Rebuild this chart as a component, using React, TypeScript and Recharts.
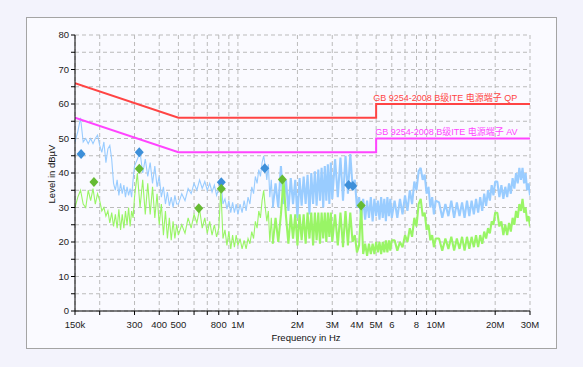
import { ComposedChart, Line, XAxis, YAxis, CartesianGrid, ReferenceDot } from 'recharts';

const FONT = "'Liberation Sans', 'Noto Sans CJK SC', sans-serif";

// frequency grid in MHz, split in pieces so the value rows stay readable
const freqA = [0.15, 0.155, 0.16, 0.165, 0.17, 0.175, 0.18, 0.185, 0.19, 0.195, 0.2, 0.205, 0.21, 0.215, 0.22, 0.225, 0.23, 0.235, 0.24, 0.245, 0.25, 0.255, 0.26, 0.265, 0.27, 0.275, 0.28, 0.285, 0.29, 0.295, 0.3];
const peakA = [49, 52, 56, 49, 50, 48.5, 50, 48.5, 50, 51, 48, 46, 49, 43, 47, 48, 44, 37, 35, 38, 33.5, 37, 34, 36.5, 33, 36, 33.5, 35.5, 33, 38, 42];
const avgA = [30, 33, 35, 31, 30, 35, 32, 35.5, 31, 34, 32, 29, 30, 27.5, 29, 25.5, 28.5, 24.5, 28, 24, 29.5, 23.5, 28, 24, 29, 25, 30, 24.5, 29, 27, 33];

const freqB = [0.31, 0.32, 0.33, 0.34, 0.35, 0.36, 0.37, 0.38, 0.39, 0.4, 0.41, 0.42, 0.43, 0.44, 0.45, 0.46, 0.47, 0.48, 0.49];
const peakB = [44, 46, 40, 44, 39, 43, 37, 42, 36, 39, 33, 36, 31, 34.5, 30.5, 33, 30, 33.5, 31];
const avgB = [40, 30, 38, 28, 37, 28, 36, 27, 34, 25, 31, 22, 29, 21, 27, 20.5, 26, 21, 25];

const freqC = [0.5, 0.52, 0.54, 0.56, 0.58, 0.6, 0.62, 0.64, 0.66, 0.68, 0.7, 0.72, 0.74, 0.76, 0.78, 0.8, 0.82, 0.84, 0.86, 0.88, 0.9, 0.92, 0.94, 0.96, 0.98, 1];
const peakC = [31, 34, 32, 35.5, 34, 37, 35, 38, 35.5, 37.5, 35, 37, 34.5, 36.5, 33.5, 35.5, 38, 31, 32.5, 29.5, 32, 28.5, 31.5, 28.5, 31, 28];
const avgC = [22, 25, 22.5, 27, 24, 28, 25.5, 29.5, 24, 27, 22.5, 26, 22, 25, 21.5, 24, 35.5, 21, 23.5, 19, 23, 18, 22, 18.5, 22, 19];

const freqD = [1.025, 1.05, 1.075, 1.1, 1.125, 1.15, 1.175, 1.2, 1.225, 1.25, 1.275, 1.3, 1.325, 1.35, 1.375, 1.4, 1.425, 1.45, 1.475, 1.5];
const peakD = [31, 28.5, 32, 29, 33, 31, 36, 34, 39, 37, 41, 39, 43, 45, 42, 38, 42.5, 33, 38, 30];
const avgD = [21, 18, 20.5, 18, 21, 19.5, 23, 21, 26, 24, 29, 27, 32, 35, 30, 26, 29, 20, 27, 19.5];

const freqE = [1.55, 1.6, 1.65, 1.7, 1.75, 1.8, 1.85, 1.9, 1.95, 2, 2.05, 2.1, 2.15, 2.2, 2.25, 2.3, 2.35, 2.4, 2.45, 2.5, 2.55, 2.6, 2.65, 2.7, 2.75, 2.8, 2.85, 2.9, 2.95, 3];
const peakE = [37, 30, 42, 31, 38, 29, 38.5, 31, 38, 27, 38.5, 30.5, 39, 31, 39.5, 28, 40, 31, 40.5, 30.5, 41, 32, 41.5, 30, 42, 32, 42.5, 31, 43, 32.5];
const avgE = [27, 20, 28, 38, 27.5, 19.5, 28, 21, 28, 19, 28, 20.5, 28, 19.5, 28.5, 21, 28.5, 19, 28.5, 20.5, 28.5, 19.5, 28.5, 21, 28.5, 20, 28.5, 21.5, 28.5, 20];

const freqF = [3.1, 3.2, 3.3, 3.4, 3.5, 3.6, 3.7, 3.8, 3.9, 4, 4.1, 4.2, 4.3, 4.4, 4.5, 4.6, 4.7, 4.8, 4.9, 5, 5.1, 5.2, 5.3, 5.4, 5.5, 5.6, 5.7, 5.8, 5.9, 6];
const peakF = [44, 33, 44.5, 32, 45, 34, 45.5, 36, 38, 30, 33, 27, 32.5, 26.5, 32, 27, 33, 26, 32.5, 27.5, 32, 26.5, 33, 27, 32.5, 26, 33, 27.5, 32.5, 27];
const avgF = [28, 19, 28.5, 18.5, 29, 19, 28.5, 20, 22, 17, 19, 30.5, 16.5, 19.5, 16, 19.5, 16.5, 19.5, 16.5, 20, 17, 20, 16.5, 20, 17, 20.5, 17, 20.5, 17.5, 20.5];

const freqG = [6.2, 6.4, 6.6, 6.8, 7, 7.2, 7.4, 7.6, 7.8, 8, 8.2, 8.4, 8.6, 8.8, 9, 9.2, 9.4, 9.6, 9.8, 10];
const peakG = [32, 27, 32.5, 28, 33.5, 29, 35, 31, 37.5, 35, 40.5, 41.5, 38, 39.5, 34, 36, 30, 33, 28, 32];
const avgG = [20.5, 17.5, 20, 18.5, 22, 20, 24, 21.5, 27, 24.5, 31, 32.5, 27.5, 28.5, 23.5, 25, 20.5, 22, 18.5, 21];

const freqH = [10.4, 10.8, 11.2, 11.6, 12, 12.4, 12.8, 13.2, 13.6, 14, 14.4, 14.8, 15.2, 15.6, 16, 16.4, 16.8, 17.2, 17.6, 18, 18.4, 18.8, 19.2, 19.6, 20];
const peakH = [31.5, 27, 31, 27.5, 32, 27, 31.5, 27.5, 31.5, 27, 32, 27.5, 32, 28, 32.5, 28.5, 33, 29, 34, 30.5, 35, 32, 36.5, 33.5, 37.5];
const avgH = [21, 17.5, 21, 18, 21.5, 17.5, 21, 18, 21.5, 17.5, 21.5, 18, 21.5, 18.5, 22, 18.5, 22, 19.5, 23, 21, 24, 22.5, 26, 25, 28.5];

const freqI = [20.5, 21, 21.5, 22, 22.5, 23, 23.5, 24, 24.5, 25, 25.5, 26, 26.5, 27, 27.5, 28, 28.5, 29, 29.5, 30];
const peakI = [37.5, 33, 36.5, 32.5, 36, 33, 37, 34, 38.5, 35.5, 40, 37, 41.5, 38, 41.5, 37, 40, 35, 37, 33.5];
const avgI = [28.5, 24.5, 26, 22, 25, 22, 25.5, 23, 27, 25, 29, 27, 31, 29, 32.5, 28.5, 30, 26, 27.5, 24.5];

// final measurement points
const peakMarkFreq = [0.161, 0.317, 0.824, 1.367, 3.63, 3.81];
const peakMarkDb = [45.5, 46, 37.3, 41.4, 36.5, 36.2];
const avgMarkFreq = [0.187, 0.317, 0.634, 0.824, 1.677, 4.2];
const avgMarkDb = [37.4, 41.2, 29.8, 35.4, 38.1, 30.6];

// limit lines
const limitFreq = [0.15, 0.5, 5, 5, 30];
const qpLimit = [66, 56, 56, 60, 60];
const avLimit = [56, 46, 46, 50, 50];

const xTicks = [0.15, 0.2, 0.3, 0.4, 0.5, 0.6, 0.7, 0.8, 0.9, 1, 2, 3, 4, 5, 6, 7, 8, 9, 10, 20, 30];
const xTickText = ['150k', '', '300', '400', '500', '', '', '800', '', '1M', '2M', '3M', '4M', '5M', '6', '', '8', '', '10M', '20M', '30M'];
const yTicks = [0, 5, 10, 15, 20, 25, 30, 35, 40, 45, 50, 55, 60, 65, 70, 75, 80];

const toRows = (fs: number[], vs: number[]) => fs.map((f, i) => ({ f, v: vs[i] }));

// below ~1.5 MHz the traces are a thin wiggly line, above it they become a dense band
const lowFreq = [...freqA, ...freqB, ...freqC, ...freqD];
const highFreq = [freqD[freqD.length - 1], ...freqE, ...freqF, ...freqG, ...freqH, ...freqI];
const peakLow = toRows(lowFreq, [...peakA, ...peakB, ...peakC, ...peakD]);
const peakHigh = toRows(highFreq, [peakD[peakD.length - 1], ...peakE, ...peakF, ...peakG, ...peakH, ...peakI]);
const avgLow = toRows(lowFreq, [...avgA, ...avgB, ...avgC, ...avgD]);
const avgHigh = toRows(highFreq, [avgD[avgD.length - 1], ...avgE, ...avgF, ...avgG, ...avgH, ...avgI]);

const peakMarks = toRows(peakMarkFreq, peakMarkDb);
const avgMarks = toRows(avgMarkFreq, avgMarkDb);
const qpData = toRows(limitFreq, qpLimit);
const avData = toRows(limitFreq, avLimit);

const diamond = (color: string) => (props: any) => {
  const { cx, cy, index } = props;
  if (cx == null || cy == null) return <g key={index} />;
  return (
    <polygon
      key={index}
      points={`${cx},${cy - 5} ${cx + 4.5},${cy} ${cx},${cy + 5} ${cx - 4.5},${cy}`}
      fill={color}
    />
  );
};

const limitLabel = (text: string, color: string, dx: number) => (props: any) => {
  const vb = props.viewBox || {};
  return (
    <text x={vb.x + 1 + dx} y={vb.y + 1 - 3.5} fill={color} fontSize={9} fontFamily={FONT}>
      {text}
    </text>
  );
};

const tickStyle = { fontSize: 9.5, fill: '#222', fontFamily: FONT };
const BLUE = '#99ccff';
const GREEN = '#99f566';

export default function App() {
  return (
    <div style={{ position: 'absolute', left: 0, top: 0, width: 583, height: 367, background: '#f3f3fc' }}>
      <div
        style={{
          position: 'absolute',
          left: 26,
          top: 17,
          width: 529,
          height: 330,
          border: '1px solid #a4a4a4',
          background: '#fafaff',
        }}
      />
      <div style={{ position: 'absolute', left: 0, top: 0 }}>
        <ComposedChart width={583} height={367} margin={{ top: 35, right: 53, bottom: 26, left: 35 }}>
          <CartesianGrid stroke="#bbbbbb" strokeDasharray="4 3" />
          <XAxis
            type="number"
            dataKey="f"
            scale="log"
            domain={[0.15, 30]}
            allowDataOverflow
            ticks={xTicks}
            interval={0}
            tickFormatter={(v: number) => xTickText[xTicks.indexOf(v)] ?? ''}
            tick={tickStyle}
            tickSize={4}
            tickMargin={6}
            height={30}
            axisLine={{ stroke: '#000' }}
            tickLine={{ stroke: '#000' }}
            label={() => (
              <text x={306} y={341} textAnchor="middle" fontSize={9.5} fill="#111" fontFamily={FONT}>
                Frequency in Hz
              </text>
            )}
          />
          <YAxis
            type="number"
            dataKey="v"
            domain={[0, 80]}
            allowDataOverflow
            ticks={yTicks}
            interval={0}
            tickFormatter={(v: number) => (v % 10 === 0 ? String(v) : '')}
            tick={tickStyle}
            tickSize={4}
            tickMargin={2}
            width={40}
            axisLine={{ stroke: '#000' }}
            tickLine={{ stroke: '#000' }}
            label={() => (
              <text
                x={51}
                y={174}
                transform="rotate(-90 51 174)"
                textAnchor="middle"
                dominantBaseline="central"
                fontSize={9.5}
                fill="#111"
                fontFamily={FONT}
              >
                Level in dBµV
              </text>
            )}
          />
          <Line data={peakLow} dataKey="v" stroke={BLUE} strokeWidth={1.1} dot={false} activeDot={false} isAnimationActive={false} />
          <Line data={peakHigh} dataKey="v" stroke={BLUE} strokeWidth={2.1} strokeLinejoin="bevel" dot={false} activeDot={false} isAnimationActive={false} />
          <Line data={avgLow} dataKey="v" stroke={GREEN} strokeWidth={1.1} dot={false} activeDot={false} isAnimationActive={false} />
          <Line data={avgHigh} dataKey="v" stroke={GREEN} strokeWidth={2.1} strokeLinejoin="bevel" dot={false} activeDot={false} isAnimationActive={false} />
          <Line data={qpData} dataKey="v" stroke="#ff4444" strokeWidth={2} dot={false} activeDot={false} isAnimationActive={false} />
          <Line data={avData} dataKey="v" stroke="#ff44ff" strokeWidth={2} dot={false} activeDot={false} isAnimationActive={false} />
          <ReferenceDot
            x={5}
            y={60}
            r={1}
            fill="none"
            stroke="none"
            label={limitLabel('GB 9254-2008 B级ITE 电源端子 QP', '#ff4444', -3)}
          />
          <ReferenceDot
            x={5}
            y={50}
            r={1}
            fill="none"
            stroke="none"
            label={limitLabel('GB 9254-2008 B级ITE 电源端子 AV', '#ff44ff', -1)}
          />
          <Line data={peakMarks} dataKey="v" stroke="none" dot={diamond('#3d8fd9')} activeDot={false} isAnimationActive={false} />
          <Line data={avgMarks} dataKey="v" stroke="none" dot={diamond('#66bb33')} activeDot={false} isAnimationActive={false} />
        </ComposedChart>
      </div>
    </div>
  );
}
